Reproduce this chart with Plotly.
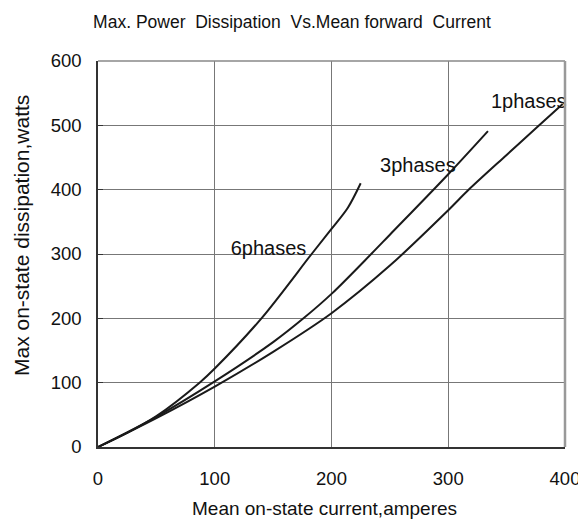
import plotly.graph_objects as go

# Data
x_6ph = [0, 25, 50, 87, 100, 140, 183, 200, 214, 225]
y_6ph = [0, 22, 48, 100, 122, 200, 300, 339, 372, 410]

x_3ph = [0, 50, 100, 150, 176, 200, 234, 250, 300, 334]
y_3ph = [0, 47, 102, 163, 200, 238, 300, 330, 424, 491]

x_1ph = [0, 50, 100, 150, 200, 250, 300, 317, 350, 376, 398]
y_1ph = [0, 45, 94, 148, 208, 282, 368, 399, 454, 497, 533]

labels = ["6phases", "3phases", "1phases"]
label_x = [146, 274, 369]
label_y = [306, 436, 534]

x_ticks = [0, 100, 200, 300, 400]
y_ticks = [0, 100, 200, 300, 400, 500, 600]

FONT = "Liberation Sans, Arial, sans-serif"
OFF = 8  # page body offset
W, H = 586 - OFF, 521 - OFF
L, R, T, B = 98 - OFF, 21, 61 - OFF, 74
PW, PH = W - L - R, H - T - B

fig = go.Figure()
for xs, ys in [(x_6ph, y_6ph), (x_3ph, y_3ph), (x_1ph, y_1ph)]:
    fig.add_trace(go.Scatter(x=xs, y=ys, mode="lines",
                             line=dict(color="#1a1a1a", width=2, shape="spline", smoothing=0.9),
                             showlegend=False, hoverinfo="skip"))

fig.add_trace(go.Scatter(x=label_x, y=label_y, mode="text", text=labels,
                         textfont=dict(family=FONT, size=20, color="#111"),
                         showlegend=False, hoverinfo="skip", cliponaxis=False))

fig.update_layout(
    width=W, height=H,
    margin=dict(l=L, r=R, t=T, b=B, autoexpand=False),
    paper_bgcolor="white", plot_bgcolor="white",
    font=dict(family=FONT, size=18.5, color="#111"),
    title=dict(text="Max. Power  Dissipation  Vs.Mean forward  Current",
               x=(292 - OFF) / W, xanchor="center", y=1 - (22 - OFF) / H, yanchor="middle",
               font=dict(family=FONT, size=17.5, color="#111")),
    xaxis=dict(range=[0, 400], tickvals=x_ticks, showgrid=True, gridcolor="#777", gridwidth=1,
               showline=True, linecolor="#333", linewidth=1.5, zeroline=False,
               ticks="", tickfont=dict(size=18.5), ticklabelstandoff=14, automargin=False),
    yaxis=dict(range=[0, 600], tickvals=y_ticks, showgrid=True, gridcolor="#777", gridwidth=1,
               showline=True, linecolor="#333", linewidth=1.5, zeroline=False,
               ticks="inside", ticklen=5, tickcolor="#333", tickfont=dict(size=18.5),
               ticklabelstandoff=11, automargin=False),
)

# axis titles placed as annotations (reference pixel positions)
fig.add_annotation(text="Mean on-state current,amperes", xref="paper", yref="paper",
                   x=(324 - 98) / PW, y=-(509 - 447) / PH,
                   xanchor="center", yanchor="middle", showarrow=False,
                   font=dict(family=FONT, size=19, color="#111"))
fig.add_annotation(text="Max on-state dissipation,watts", xref="paper", yref="paper",
                   x=-(98 - 22) / PW, y=(447 - 236) / PH,
                   xanchor="center", yanchor="middle", textangle=-90, showarrow=False,
                   font=dict(family=FONT, size=21, color="#111"))

# gray frame on top and right
fig.add_shape(type="line", xref="paper", yref="paper", x0=0, x1=1, y0=1, y1=1,
              line=dict(color="#888", width=1.5))
fig.add_shape(type="line", xref="paper", yref="paper", x0=1, x1=1, y0=0, y1=1,
              line=dict(color="#999", width=2.5))

fig.write_html("out.html")
